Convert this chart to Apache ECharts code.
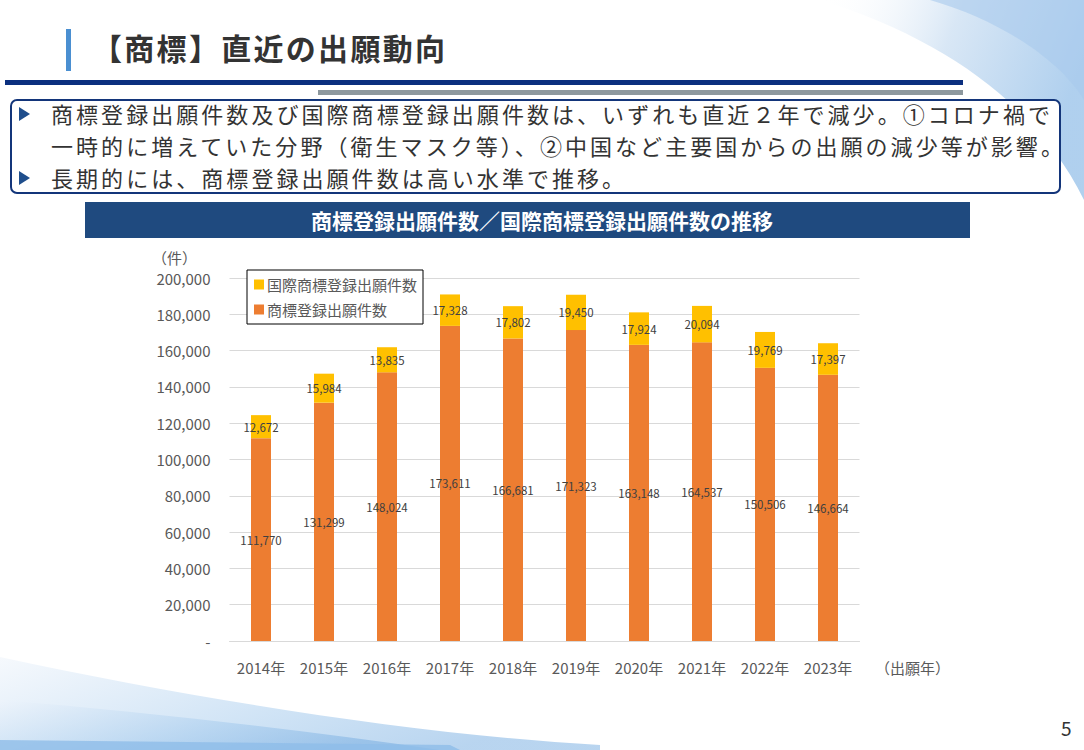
<!DOCTYPE html>
<html lang="ja">
<head>
<meta charset="utf-8">
<title>【商標】直近の出願動向</title>
<script src="https://cdn.jsdelivr.net/npm/echarts@6/dist/echarts.min.js"></script>
<style>
  html, body { margin: 0; padding: 0; background: #fff; }
  body { width: 1084px; height: 750px; position: relative; overflow: hidden;
         font-family: "Noto Sans CJK JP", "Noto Sans", sans-serif; color: #333; }
  .deco { position: absolute; left: 0; top: 0; }
  .head-bar { position: absolute; left: 66px; top: 29px; width: 5px; height: 42px; background: #4a8fd1; }
  .head { position: absolute; left: 92px; top: 26px; font-size: 30px; font-weight: bold;
          letter-spacing: 2.3px; color: #333; line-height: 42px; }
  .rule1 { position: absolute; left: 5px; top: 80px; width: 958px; height: 5px; background: #0b2f7f; }
  .rule2 { position: absolute; left: 318px; top: 90px; width: 645px; height: 5px; background: #8d989e; }
  .box { position: absolute; left: 10px; top: 99px; width: 1047px; height: 91px;
         border: 2px solid #13357a; border-radius: 7px; background: #fff; }
  .line { position: absolute; left: 39px; font-size: 22px; letter-spacing: 3.05px; line-height: 32px;
          white-space: nowrap; color: #333; }
  .tri { position: absolute; left: 7px; width: 0; height: 0; border-top: 7px solid transparent;
         border-bottom: 7px solid transparent; border-left: 11px solid #1f4e8c; }
  #chart { position: absolute; left: 0; top: 0; width: 1084px; height: 750px; }
  .page { position: absolute; left: 1061px; top: 714px; font-size: 19px; color: #333; }
</style>
</head>
<body>
<svg class="deco" width="1084" height="750">
  <defs>
    <linearGradient id="gtr" x1="0" y1="0" x2="1" y2="0.3">
      <stop offset="0" stop-color="#ffffff" stop-opacity="0"/>
      <stop offset="0.5" stop-color="#cfe1f3"/>
      <stop offset="1" stop-color="#9cc4ea"/>
    </linearGradient>
    <linearGradient id="gbl" x1="0" y1="0" x2="1" y2="0.4">
      <stop offset="0" stop-color="#eef4fb"/>
      <stop offset="0.6" stop-color="#a9cdee"/>
      <stop offset="1" stop-color="#7fb2e3"/>
    </linearGradient>
  </defs>
  <path d="M820,0 C950,40 1040,110 1084,200 L1084,0 Z" fill="url(#gtr)" opacity="0.8"/>
  <path d="M930,0 C1000,20 1060,60 1084,100 L1084,0 Z" fill="#a8c9ec" opacity="0.6"/>
  <path d="M0,657 C200,700 420,735 600,745 L600,750 L0,750 Z" fill="url(#gbl)" opacity="0.55"/>
  <path d="M0,700 C150,712 300,730 440,750 L0,750 Z" fill="url(#gbl)" opacity="0.6"/>
  <path d="M0,740 L450,745 L460,750 L0,750 Z" fill="#8fbde8" opacity="0.8"/>
</svg>
<div class="head-bar"></div>
<div class="head">【商標】直近の出願動向</div>
<div class="rule1"></div>
<div class="rule2"></div>
<div class="box">
  <div class="tri" style="top:6px"></div>
  <div class="line" style="top:-4px">商標登録出願件数及び国際商標登録出願件数は、いずれも直近２年で減少。①コロナ禍で</div>
  <div class="line" style="top:28px">一時的に増えていた分野（衛生マスク等）、②中国など主要国からの出願の減少等が影響。</div>
  <div class="tri" style="top:70px"></div>
  <div class="line" style="top:60px">長期的には、商標登録出願件数は高い水準で推移。</div>
</div>
<div id="chart"></div>
<div class="page">5</div>
<script>
const years = ['2014年', '2015年', '2016年', '2017年', '2018年', '2019年', '2020年', '2021年', '2022年', '2023年']
const domestic = [111770, 131299, 148024, 173611, 166681, 171323, 163148, 164537, 150506, 146664]
const international = [12672, 15984, 13835, 17328, 17802, 19450, 17924, 20094, 19769, 17397]
const yTicks = [0, 20000, 40000, 60000, 80000, 100000, 120000, 140000, 160000, 180000, 200000]

const fmt = v => v === 0 ? '-' : v.toLocaleString('en-US')
const font = '"Noto Sans CJK JP", sans-serif'

const chart = echarts.init(document.getElementById('chart'), null, { renderer: 'svg' })
chart.setOption({
  animation: false,
  textStyle: { fontFamily: font },
  graphic: [
    { type: 'rect', shape: { x: 85, y: 202, width: 885, height: 36 }, style: { fill: '#1f4a7f' } },
    { type: 'text', x: 542, y: 220,
      style: { text: '商標登録出願件数／国際商標登録出願件数の推移', fill: '#fff', font: 'bold 21px ' + font,
               align: 'center', verticalAlign: 'middle' } },
    { type: 'text', x: 152, y: 257,
      style: { text: '（件）', fill: '#595959', font: '15px ' + font, verticalAlign: 'middle' } },
    { type: 'text', x: 875, y: 667,
      style: { text: '（出願年）', fill: '#595959', font: '15px ' + font, verticalAlign: 'middle' } }
  ],
  grid: { left: 229.5, right: 224.5, top: 278, bottom: 109 },
  legend: {
    left: 247, top: 270, orient: 'vertical',
    backgroundColor: '#fff', borderColor: '#000', borderWidth: 1,
    padding: [7, 6, 7, 7], itemGap: 10, itemWidth: 10, itemHeight: 10, icon: 'rect',
    textStyle: { fontSize: 15, color: '#595959', padding: [0, 0, 0, -2] },
    data: ['国際商標登録出願件数', '商標登録出願件数']
  },
  xAxis: {
    type: 'category', data: years,
    axisLine: { lineStyle: { color: '#d9d9d9' } },
    axisTick: { show: false },
    axisLabel: { fontSize: 15, color: '#595959', margin: 19 }
  },
  yAxis: {
    type: 'value', min: yTicks[0], max: yTicks[yTicks.length - 1], interval: yTicks[1] - yTicks[0],
    axisLine: { show: false }, axisTick: { show: false },
    axisLabel: { fontSize: 15, color: '#595959', margin: 19, formatter: fmt },
    splitLine: { lineStyle: { color: '#d9d9d9' } }
  },
  series: [
    {
      name: '商標登録出願件数', type: 'bar', stack: 'total', barWidth: 20,
      itemStyle: { color: '#ed7d31' },
      label: { show: true, position: 'inside', fontSize: 11.5, color: '#404040', formatter: p => fmt(p.value) },
      data: domestic
    },
    {
      name: '国際商標登録出願件数', type: 'bar', stack: 'total', barWidth: 20,
      itemStyle: { color: '#ffc000' },
      label: { show: true, position: 'inside', fontSize: 11.5, color: '#404040', formatter: p => fmt(p.value) },
      data: international
    }
  ]
})
</script>
</body>
</html>
